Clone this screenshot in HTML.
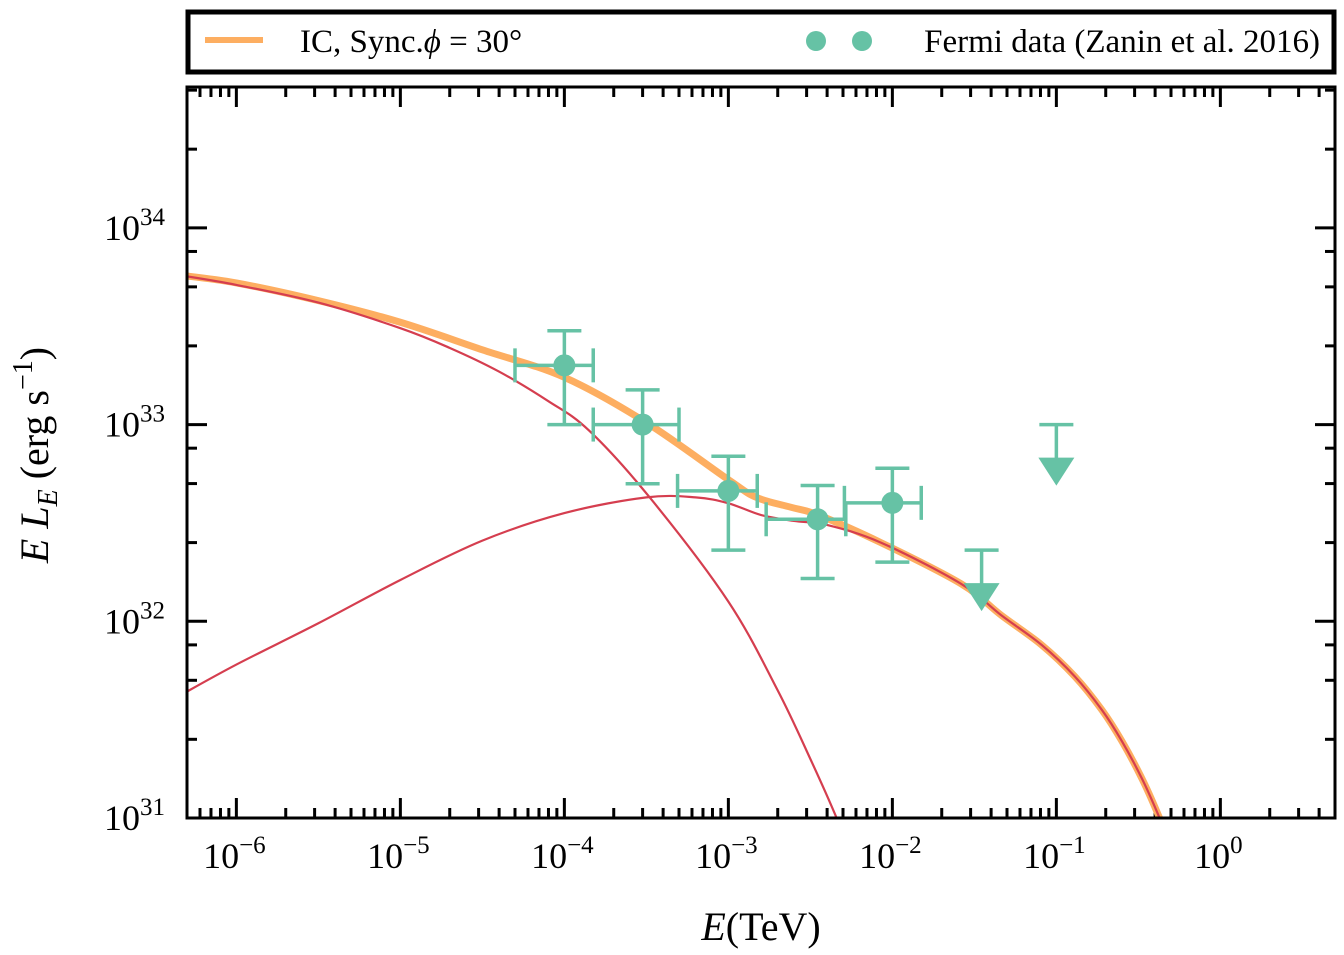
<!DOCTYPE html>
<html><head><meta charset="utf-8"><style>
html,body{margin:0;padding:0;background:#fff;}
svg text{font-family:"Liberation Serif",serif;fill:#000;}
</style></head><body>
<svg id="chart" width="1344" height="950" viewBox="0 0 1344 950" xmlns="http://www.w3.org/2000/svg">
<g>
<rect x="188" y="12" width="1146" height="60" fill="#fff" stroke="#000" stroke-width="5"/>
<line x1="205" y1="40" x2="263" y2="40" stroke="#fdae61" stroke-width="6"/>
<text x="300" y="52" font-size="33">IC, Sync.<tspan font-style="italic">ϕ</tspan> = 30°</text>
<circle cx="816" cy="41" r="10" fill="#66c2a5"/>
<circle cx="862" cy="41" r="10" fill="#66c2a5"/>
<text x="1320" y="52" font-size="33" text-anchor="end">Fermi data (Zanin et al. 2016)</text>
</g>
<defs><clipPath id="plotclip"><rect x="187" y="87" width="1148" height="730"/></clipPath></defs>
<g id="ticks"></g>
<g id="curves" clip-path="url(#plotclip)"></g>
<g id="points"></g>
<rect x="187" y="87" width="1148" height="731" fill="none" stroke="#000" stroke-width="3"/>
<g id="labels"></g>
<text x="761" y="940" font-size="40" text-anchor="middle"><tspan font-style="italic">E</tspan>(TeV)</text>
<text transform="translate(48,455) rotate(-90)" font-size="40" text-anchor="middle"><tspan font-style="italic">E L</tspan><tspan font-style="italic" font-size="28" dy="9">E</tspan><tspan dy="-9"> (erg s</tspan><tspan font-size="28" dy="-16">−1</tspan><tspan dy="16">)</tspan></text>
</svg>
<script>
// log10 E (TeV) and log10 EL_E (erg/s)
const totalLogE = [-6.35,-6,-5.5,-5,-4.5,-4,-3.5,-3,-2.83,-2.62,-2.45,-2.07,-1.58,-1.335,-1.09,-0.888,-0.723,-0.6,-0.478,-0.386,-0.3,-0.2];
const totalLogL = [33.76,33.72,33.63,33.52,33.38,33.24,33.01,32.72,32.63,32.58,32.54,32.40,32.19,32.03,31.88,31.72,31.55,31.39,31.20,31.03,30.85,30.62];
const syncLogE = [-6.35,-6,-5.5,-5,-4.7,-4.4,-4.1,-3.85,-3.48,-3.0,-2.7,-2.5,-2.34,-2.2];
const syncLogL = [33.76,33.71,33.62,33.49,33.39,33.27,33.12,32.97,32.63,32.10,31.65,31.30,31.0,30.7];
const icLogE = [-6.35,-6,-5.5,-5,-4.5,-4,-3.5,-3.2,-3,-2.8,-2.6,-2.4,-2.07,-1.58,-1.335,-1.09,-0.888,-0.723,-0.6,-0.478,-0.386,-0.3,-0.2];
const icLogL = [31.62,31.78,31.99,32.21,32.41,32.55,32.63,32.63,32.60,32.54,32.51,32.49,32.40,32.19,32.03,31.88,31.72,31.55,31.39,31.20,31.03,30.85,30.62];
const fermiE = [1e-4,3e-4,1e-3,3.5e-3,1e-2];
const fermiL = [2e33,1e33,4.6e32,3.3e32,4e32];
const fermiELo = [5e-5,1.5e-4,4.9e-4,1.7e-3,5.1e-3];
const fermiEHi = [1.5e-4,5e-4,1.5e-3,5.2e-3,1.5e-2];
const fermiLLo = [1e33,5e32,2.3e32,1.65e32,2e32];
const fermiLHi = [3e33,1.5e33,6.9e32,4.9e32,6e32];
const ulE = [0.035,0.1];
const ulL = [2.3e32,1e33];
const xTickExp = [-6,-5,-4,-3,-2,-1,0];
const yTickExp = [31,32,33,34];

const NS='http://www.w3.org/2000/svg';
const X0=187,X1=1335,Y0=87,Y1=818;
const xMin=Math.log10(5e-7), xMax=Math.log10(5);
const yMin=31, yMax=34.716;
const xs = l => X0+(l-xMin)/(xMax-xMin)*(X1-X0);
const ys = l => Y1-(l-yMin)/(yMax-yMin)*(Y1-Y0);
const xv = v => xs(Math.log10(v));
const yv = v => ys(Math.log10(v));
function mk(tag, attrs, parent){const e=document.createElementNS(NS,tag);for(const k in attrs)e.setAttribute(k,attrs[k]);parent.appendChild(e);return e;}
function smooth(px,py){
  let d=`M${px[0]},${py[0]}`;
  for(let i=0;i<px.length-1;i++){
    const p0=[px[Math.max(i-1,0)],py[Math.max(i-1,0)]],p1=[px[i],py[i]],p2=[px[i+1],py[i+1]],p3=[px[Math.min(i+2,px.length-1)],py[Math.min(i+2,px.length-1)]];
    const c1=[p1[0]+(p2[0]-p0[0])/6,p1[1]+(p2[1]-p0[1])/6],c2=[p2[0]-(p3[0]-p1[0])/6,p2[1]-(p3[1]-p1[1])/6];
    d+=` C${c1[0]},${c1[1]} ${c2[0]},${c2[1]} ${p2[0]},${p2[1]}`;
  }
  return d;
}
const curves=document.getElementById('curves');
let p=mk('path',{d:smooth(totalLogE.map(xs),totalLogL.map(ys)),fill:'none',stroke:'#fdae61','stroke-width':7},curves);


p=mk('path',{d:smooth(syncLogE.map(xs),syncLogL.map(ys)),fill:'none',stroke:'#d53e4f','stroke-width':2.2},curves);


p=mk('path',{d:smooth(icLogE.map(xs),icLogL.map(ys)),fill:'none',stroke:'#d53e4f','stroke-width':2.2},curves);



const pts=document.getElementById('points');
const C='#66c2a5';
fermiE.forEach((e,i)=>{
  const g=mk('g',{stroke:C,'stroke-width':3.5,fill:C},pts);
  
  
  const cx=xv(e),cy=yv(fermiL[i]),xl=xv(fermiELo[i]),xh=xv(fermiEHi[i]),yl=yv(fermiLLo[i]),yh=yv(fermiLHi[i]);
  mk('line',{x1:xl,y1:cy,x2:xh,y2:cy},g);
  mk('line',{x1:cx,y1:yl,x2:cx,y2:yh},g);
  mk('line',{x1:xl,y1:cy-17,x2:xl,y2:cy+17},g);
  mk('line',{x1:xh,y1:cy-17,x2:xh,y2:cy+17},g);
  mk('line',{x1:cx-17,y1:yl,x2:cx+17,y2:yl},g);
  mk('line',{x1:cx-17,y1:yh,x2:cx+17,y2:yh},g);
  mk('circle',{cx:cx,cy:cy,r:11,stroke:'none'},g);
});
ulE.forEach((e,i)=>{
  const g=mk('g',{stroke:C,'stroke-width':3.5,fill:C},pts);
  
  
  const cx=xv(e),cy=yv(ulL[i]);
  mk('line',{x1:cx-17,y1:cy,x2:cx+17,y2:cy},g);
  mk('line',{x1:cx,y1:cy,x2:cx,y2:cy+40},g);
  mk('polygon',{points:`${cx-18},${cy+33} ${cx+18},${cy+33} ${cx},${cy+61}`,stroke:'none'},g);
});

const tk=document.getElementById('ticks'), lb=document.getElementById('labels');
function tline(x1,y1,x2,y2,name){const l=mk('line',{x1,y1,x2,y2,stroke:'#000','stroke-width':3},tk);}
for(let d=-7;d<=0;d++){
  for(let m=1;m<10;m++){
    const l=d+Math.log10(m); if(l<xMin||l>xMax) continue;
    const x=xs(l), len=m===1?20:10;
    tline(x,Y1,x,Y1-len,'x-tick'); tline(x,Y0,x,Y0+len,'x-tick-top');
  }
}
xTickExp.forEach(e=>{
  const t=mk('text',{x:xs(e)-2,y:868,'font-size':36,'text-anchor':'middle'},lb);
  
  
  t.innerHTML=`10<tspan font-size="25" dy="-15">${e<0?'−'+(-e):e}</tspan>`;
});
const yMinorOff=[0.12,0.3,0.6];
for(let d=31;d<=35;d++){
  [0].concat(yMinorOff).forEach((o,j)=>{
    const l=d-o; if(l<yMin||l>yMax) return;
    const y=ys(l), len=j===0?20:10;
    tline(X0,y,X0+len,y,'y-tick'); tline(X1,y,X1-len,y,'y-tick-right');
  });
}
yTickExp.forEach(e=>{
  const t=mk('text',{x:165,y:ys(e)+12,'font-size':36,'text-anchor':'end'},lb);
  
  
  t.innerHTML=`10<tspan font-size="25" dy="-15">${e}</tspan>`;
});
</script>
</body></html>
